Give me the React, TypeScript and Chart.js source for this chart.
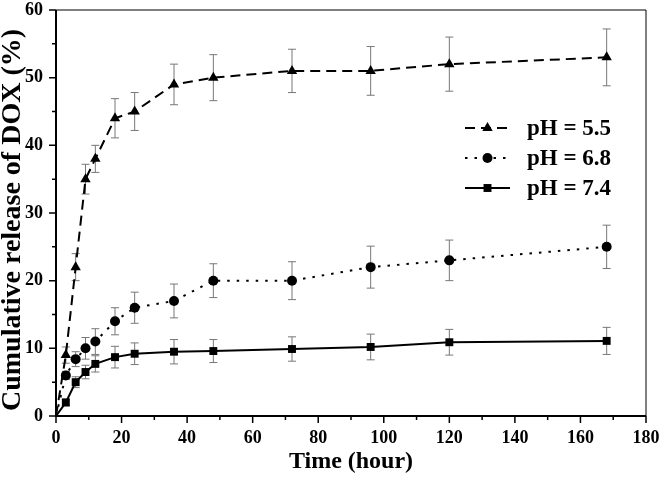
import React, { useEffect, useRef } from 'react';
import { Chart, registerables } from 'chart.js';
Chart.register(...registerables);

const times = [0, 3, 6, 9, 12, 18, 24, 36, 48, 72, 96, 120, 168];
const ph55 = [0, 9, 22, 35, 38, 44, 45, 49, 50, 51, 51, 52, 53];
const ph55Err = [0, 1.2, 2, 2.2, 2, 2.9, 2.8, 3, 3.4, 3.2, 3.6, 4, 4.2];
const ph68 = [0, 6, 8.4, 10, 11, 14, 16, 17, 20, 20, 22, 23, 25];
const ph68Err = [0, 0.6, 1.1, 1.6, 1.9, 2, 2.3, 2.5, 2.5, 2.8, 3.1, 3, 3.2];
const ph74 = [0, 2, 5, 6.5, 7.7, 8.7, 9.2, 9.5, 9.6, 9.9, 10.2, 10.9, 11.1];
const ph74Err = [0, 0.5, 0.8, 1, 1.2, 1.6, 1.6, 1.8, 1.7, 1.8, 1.9, 1.9, 2];
const seriesLabels = ['pH = 5.5', 'pH = 6.8', 'pH = 7.4'];
const xTitle = 'Time (hour)';
const yTitle = 'Cumulative release of DOX (%)';

const FONT = '"Liberation Serif", "Times New Roman", serif';
const errs = [ph55Err, ph68Err, ph74Err];
const dashes = [[10, 6], [2.5, 7], []];
const shapes = ['triangle', 'circle', 'rect'];
const radii = [6, 5, 5.6];

function drawShape(ctx: CanvasRenderingContext2D, shape: string, x: number, y: number, r: number) {
  ctx.save();
  ctx.setLineDash([]);
  ctx.fillStyle = '#000';
  ctx.beginPath();
  if (shape === 'circle') {
    ctx.arc(x, y, r, 0, Math.PI * 2);
  } else if (shape === 'rect') {
    const s = r * Math.SQRT1_2;
    ctx.rect(x - s, y - s, 2 * s, 2 * s);
  } else {
    const h = r * 1.5;
    const e = (r * 3) / Math.sqrt(3);
    ctx.moveTo(x - e / 2, y + h / 3);
    ctx.lineTo(x + e / 2, y + h / 3);
    ctx.lineTo(x, y - (2 * h) / 3);
    ctx.closePath();
  }
  ctx.fill();
  ctx.restore();
}

const customPlugin = {
  id: 'custom',
  beforeDatasetsDraw(chart: any) {
    const ctx = chart.ctx as CanvasRenderingContext2D;
    const ys = chart.scales.y;
    ctx.save();
    ctx.strokeStyle = '#777';
    ctx.lineWidth = 1;
    chart.data.datasets.forEach((ds: any, i: number) => {
      const meta = chart.getDatasetMeta(i);
      meta.data.forEach((pt: any, j: number) => {
        const e = errs[i][j];
        if (!e) return;
        const v = ds.data[j].y;
        const y1 = ys.getPixelForValue(v + e);
        const y2 = ys.getPixelForValue(v - e);
        const x = pt.x;
        ctx.beginPath();
        ctx.moveTo(x, y1); ctx.lineTo(x, y2);
        ctx.moveTo(x - 4, y1); ctx.lineTo(x + 4, y1);
        ctx.moveTo(x - 4, y2); ctx.lineTo(x + 4, y2);
        ctx.stroke();
      });
    });
    ctx.restore();
  },
  afterDraw(chart: any) {
    const ctx = chart.ctx as CanvasRenderingContext2D;
    const a = chart.chartArea;
    const xs = chart.scales.x;
    const ys = chart.scales.y;
    ctx.save();
    ctx.strokeStyle = '#000';
    // box
    ctx.lineWidth = 1;
    ctx.beginPath();
    ctx.moveTo(a.left, a.top); ctx.lineTo(a.right, a.top); ctx.lineTo(a.right, a.bottom);
    ctx.stroke();
    ctx.lineWidth = 2;
    ctx.beginPath();
    ctx.moveTo(a.left, a.top); ctx.lineTo(a.left, a.bottom); ctx.lineTo(a.right, a.bottom);
    ctx.stroke();
    // ticks
    ctx.lineWidth = 1.5;
    ctx.beginPath();
    for (let v = 0; v <= 180; v += 10) {
      const x = xs.getPixelForValue(v);
      const len = v % 20 === 0 ? 7 : 4;
      ctx.moveTo(x, a.bottom); ctx.lineTo(x, a.bottom + len);
    }
    for (let v = 0; v <= 60; v += 5) {
      const y = ys.getPixelForValue(v);
      const len = v % 10 === 0 ? 7 : 4;
      ctx.moveTo(a.left, y); ctx.lineTo(a.left - len, y);
    }
    ctx.stroke();
    // axis titles
    ctx.fillStyle = '#000';
    ctx.textAlign = 'center';
    ctx.textBaseline = 'middle';
    ctx.font = 'bold 24px ' + FONT;
    ctx.fillText(xTitle, (a.left + a.right) / 2, 462);
    ctx.save();
    ctx.translate(13, 220);
    ctx.rotate(-Math.PI / 2);
    ctx.font = 'bold 28px ' + FONT;
    ctx.fillText(yTitle, 0, 0);
    ctx.restore();
    // legend
    const rowsY = [128, 158, 188];
    ctx.textAlign = 'left';
    ctx.font = 'bold 23px ' + FONT;
    ctx.textBaseline = 'middle';
    seriesLabels.forEach((lab, i) => {
      const y = rowsY[i];
      ctx.lineWidth = 2;
      ctx.setLineDash(dashes[i]);
      ctx.beginPath();
      ctx.moveTo(465, y); ctx.lineTo(510, y);
      ctx.stroke();
      ctx.setLineDash([]);
      drawShape(ctx, shapes[i], 487.5, y, radii[i]);
      ctx.fillText(lab, 527, y + 1);
    });
    ctx.restore();
  },
};

export default function App() {
  const ref = useRef<HTMLCanvasElement>(null);
  useEffect(() => {
    document.body.style.margin = '0';
    const vals = [ph55, ph68, ph74];
    const chart = new Chart(ref.current as HTMLCanvasElement, {
      type: 'line',
      data: {
        datasets: vals.map((arr, i) => ({
          label: seriesLabels[i],
          data: times.map((t, j) => ({ x: t, y: arr[j] })),
          borderColor: '#000',
          backgroundColor: '#000',
          borderWidth: 2,
          borderDash: dashes[i],
          pointStyle: shapes[i] as any,
          pointRadius: times.map((t) => (t === 0 ? 0 : radii[i])),
          pointBorderWidth: 0,
          tension: 0,
          fill: false,
        })),
      },
      options: {
        animation: false,
        responsive: false,
        events: [],
        layout: { padding: { top: 10, right: 15, left: 0, bottom: 0 } },
        plugins: { legend: { display: false }, tooltip: { enabled: false } },
        scales: {
          x: {
            type: 'linear',
            min: 0,
            max: 180,
            border: { display: false },
            grid: { display: true, drawOnChartArea: false, drawTicks: true, tickLength: 7, color: 'transparent' },
            ticks: { stepSize: 20, color: '#000', font: { family: FONT, weight: 'bold', size: 18 }, padding: 5, maxRotation: 0 },
            title: { display: false },
            afterFit: (s: any) => { s.height = 62; s.paddingLeft = 0; s.paddingRight = 0; },
          },
          y: {
            min: 0,
            max: 60,
            border: { display: false },
            grid: { display: true, drawOnChartArea: false, drawTicks: true, tickLength: 7, color: 'transparent' },
            ticks: { stepSize: 10, color: '#000', font: { family: FONT, weight: 'bold', size: 18 }, padding: 6 },
            title: { display: false },
            afterFit: (s: any) => { s.width = 56; s.paddingTop = 0; s.paddingBottom = 0; },
          },
        },
      },
      plugins: [customPlugin],
    } as any);
    return () => chart.destroy();
  }, []);
  return <canvas ref={ref} width={661} height={478} style={{ display: 'block' }} />;
}
